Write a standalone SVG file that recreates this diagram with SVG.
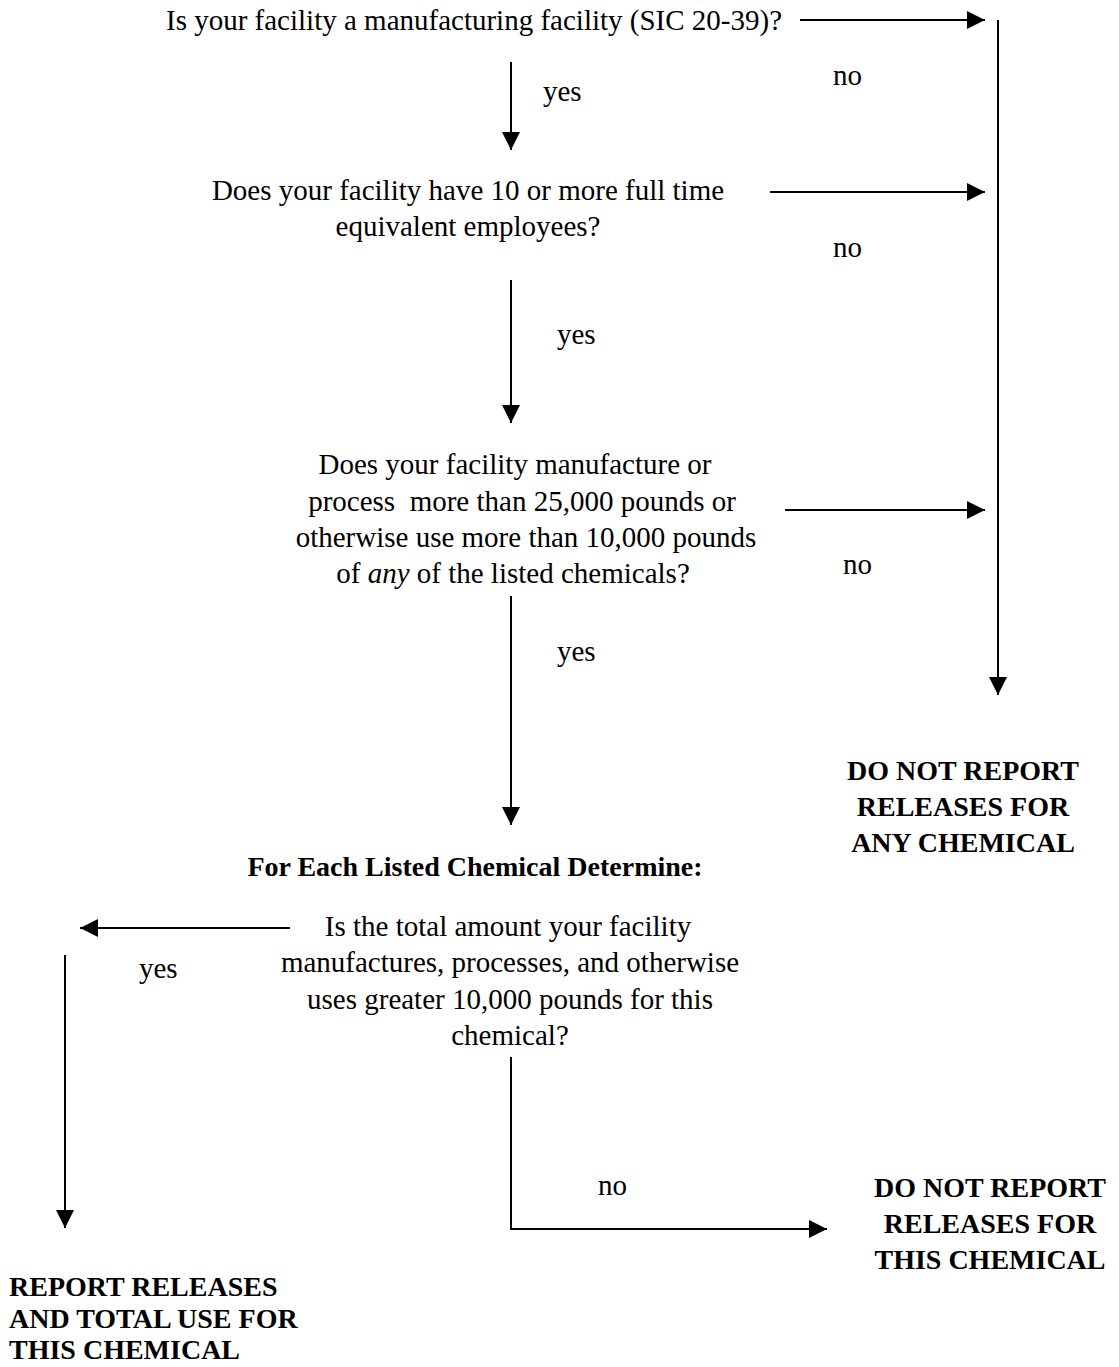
<svg xmlns="http://www.w3.org/2000/svg" width="1119" height="1367" viewBox="0 0 1119 1367">
<style>
.t{font-family:"Liberation Serif","Times New Roman",serif;font-size:29px;fill:#000}
.m{text-anchor:middle}
.b{font-family:"Liberation Serif","Times New Roman",serif;font-size:28px;font-weight:bold;fill:#000}
.c{stroke:#000;stroke-width:2;fill:none}
.a{marker-end:url(#ah)}
</style>
<defs>
<marker id="ah" markerUnits="userSpaceOnUse" markerWidth="18" markerHeight="18" refX="18" refY="9" orient="auto">
<path d="M0,0 L18,9 L0,18 z" fill="#000"/>
</marker>
</defs>
<rect width="1119" height="1367" fill="#fff"/>
<g id="connectors">
<line class="c a" x1="800" y1="20" x2="985" y2="20"/>
<line class="c a" x1="998" y1="20" x2="998" y2="695"/>
<line class="c a" x1="511" y1="62" x2="511" y2="150"/>
<line class="c a" x1="770" y1="192" x2="985" y2="192"/>
<line class="c a" x1="511" y1="280" x2="511" y2="423"/>
<line class="c a" x1="785" y1="510" x2="985" y2="510"/>
<line class="c a" x1="511" y1="596" x2="511" y2="825"/>
<line class="c a" x1="290" y1="928" x2="80" y2="928"/>
<line class="c a" x1="65" y1="955" x2="65" y2="1228"/>
<polyline class="c a" points="511,1057 511,1229 827,1229"/>
<text class="t" x="833" y="85">no</text>
<text class="t" x="543" y="101">yes</text>
<text class="t" x="833" y="257">no</text>
<text class="t" x="557" y="344">yes</text>
<text class="t" x="843" y="574">no</text>
<text class="t" x="557" y="661">yes</text>
<text class="t" x="139" y="978">yes</text>
<text class="t" x="598" y="1195">no</text>
</g>
<g id="q1">
<text class="t m" x="474" y="30">Is your facility a manufacturing facility (SIC 20-39)?</text>
</g>
<g id="q2">
<text class="t m" x="468" y="200">Does your facility have 10 or more full time</text>
<text class="t m" x="468" y="236">equivalent employees?</text>
</g>
<g id="q3">
<text class="t m" x="515" y="474">Does your facility manufacture or</text>
<text class="t m" x="522" y="511" xml:space="preserve">process  more than 25,000 pounds or</text>
<text class="t m" x="526" y="547">otherwise use more than 10,000 pounds</text>
<text class="t m" x="513" y="583">of <tspan font-style="italic">any</tspan> of the listed chemicals?</text>
</g>
<g id="stop-any">
<text class="b m" x="963" y="780">DO NOT REPORT</text>
<text class="b m" x="963" y="816">RELEASES FOR</text>
<text class="b m" x="963" y="852">ANY CHEMICAL</text>
</g>
<g id="heading">
<text class="b m" x="475" y="876">For Each Listed Chemical Determine:</text>
</g>
<g id="q4">
<text class="t m" x="508" y="936">Is the total amount your facility</text>
<text class="t m" x="510" y="972">manufactures, processes, and otherwise</text>
<text class="t m" x="510" y="1009">uses greater 10,000 pounds for this</text>
<text class="t m" x="510" y="1045">chemical?</text>
</g>
<g id="stop-this">
<text class="b m" x="990" y="1197">DO NOT REPORT</text>
<text class="b m" x="990" y="1233">RELEASES FOR</text>
<text class="b m" x="990" y="1269">THIS CHEMICAL</text>
</g>
<g id="report">
<text class="b" x="9" y="1296">REPORT RELEASES</text>
<text class="b" x="9" y="1328">AND TOTAL USE FOR</text>
<text class="b" x="9" y="1359">THIS CHEMICAL</text>
</g>
</svg>
